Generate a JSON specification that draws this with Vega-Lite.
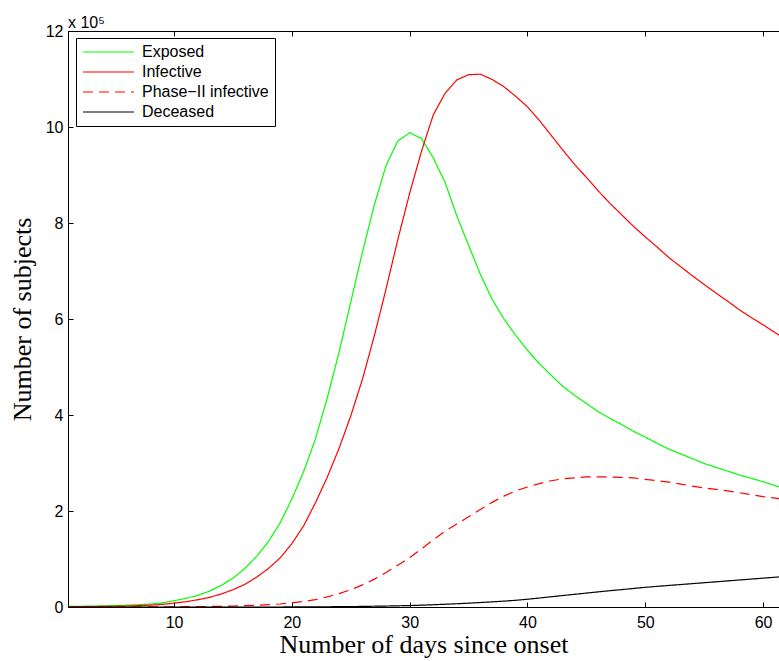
{
  "$schema": "https://vega.github.io/schema/vega-lite/v6.json",
  "width": 711,
  "height": 576,
  "autosize": "none",
  "padding": {"left": 68, "top": 31, "right": 0, "bottom": 54},
  "background": "white",
  "config": {"view": {"stroke": "black", "strokeWidth": 1}, "font": "Liberation Sans"},
  "title": {"text": "x 10⁵", "anchor": "start", "frame": "group", "offset": -21, "baseline": "alphabetic", "fontSize": 16, "fontWeight": "normal", "font": "Liberation Sans", "color": "black"},
  "data": {"values": [
    {"day": 1, "E": 0.012, "I": 0.005, "P": 0.0, "D": 0},
    {"day": 2, "E": 0.015, "I": 0.007, "P": 0.0005, "D": 0},
    {"day": 3, "E": 0.019, "I": 0.009, "P": 0.001, "D": 0},
    {"day": 4, "E": 0.024, "I": 0.012, "P": 0.0015, "D": 0},
    {"day": 5, "E": 0.03, "I": 0.016, "P": 0.002, "D": 0},
    {"day": 6, "E": 0.038, "I": 0.021, "P": 0.0025, "D": 0},
    {"day": 7, "E": 0.048, "I": 0.028, "P": 0.003, "D": 0},
    {"day": 8, "E": 0.062, "I": 0.038, "P": 0.0035, "D": 0},
    {"day": 9, "E": 0.085, "I": 0.055, "P": 0.004, "D": 0},
    {"day": 10, "E": 0.13, "I": 0.08, "P": 0.005, "D": 0},
    {"day": 11, "E": 0.18, "I": 0.11, "P": 0.006, "D": 0},
    {"day": 12, "E": 0.24, "I": 0.15, "P": 0.008, "D": 0},
    {"day": 13, "E": 0.33, "I": 0.2, "P": 0.011, "D": 0},
    {"day": 14, "E": 0.45, "I": 0.27, "P": 0.015, "D": 0},
    {"day": 15, "E": 0.6, "I": 0.36, "P": 0.02, "D": 0},
    {"day": 16, "E": 0.8, "I": 0.47, "P": 0.027, "D": 0},
    {"day": 17, "E": 1.05, "I": 0.62, "P": 0.036, "D": 0},
    {"day": 18, "E": 1.36, "I": 0.8, "P": 0.048, "D": 0},
    {"day": 19, "E": 1.75, "I": 1.02, "P": 0.063, "D": 0},
    {"day": 20, "E": 2.25, "I": 1.32, "P": 0.085, "D": 0.002},
    {"day": 21, "E": 2.82, "I": 1.69, "P": 0.115, "D": 0.003},
    {"day": 22, "E": 3.5, "I": 2.17, "P": 0.155, "D": 0.004},
    {"day": 23, "E": 4.35, "I": 2.7, "P": 0.21, "D": 0.005},
    {"day": 24, "E": 5.3, "I": 3.3, "P": 0.28, "D": 0.007},
    {"day": 25, "E": 6.35, "I": 3.98, "P": 0.36, "D": 0.009},
    {"day": 26, "E": 7.4, "I": 4.75, "P": 0.46, "D": 0.012},
    {"day": 27, "E": 8.38, "I": 5.65, "P": 0.58, "D": 0.016},
    {"day": 28, "E": 9.2, "I": 6.63, "P": 0.72, "D": 0.02},
    {"day": 29, "E": 9.71, "I": 7.66, "P": 0.87, "D": 0.025},
    {"day": 30, "E": 9.88, "I": 8.62, "P": 1.03, "D": 0.03},
    {"day": 31, "E": 9.76, "I": 9.49, "P": 1.21, "D": 0.038},
    {"day": 32, "E": 9.36, "I": 10.25, "P": 1.4, "D": 0.047},
    {"day": 33, "E": 8.85, "I": 10.7, "P": 1.58, "D": 0.057},
    {"day": 34, "E": 8.15, "I": 10.98, "P": 1.73, "D": 0.068},
    {"day": 35, "E": 7.54, "I": 11.09, "P": 1.88, "D": 0.08},
    {"day": 36, "E": 6.93, "I": 11.1, "P": 2.03, "D": 0.093},
    {"day": 37, "E": 6.41, "I": 10.99, "P": 2.18, "D": 0.107},
    {"day": 38, "E": 6.0, "I": 10.84, "P": 2.31, "D": 0.122},
    {"day": 39, "E": 5.66, "I": 10.64, "P": 2.42, "D": 0.14},
    {"day": 40, "E": 5.35, "I": 10.42, "P": 2.5, "D": 0.162},
    {"day": 41, "E": 5.07, "I": 10.14, "P": 2.57, "D": 0.187},
    {"day": 42, "E": 4.83, "I": 9.83, "P": 2.63, "D": 0.213},
    {"day": 43, "E": 4.6, "I": 9.52, "P": 2.67, "D": 0.239},
    {"day": 44, "E": 4.41, "I": 9.22, "P": 2.69, "D": 0.265},
    {"day": 45, "E": 4.24, "I": 8.95, "P": 2.71, "D": 0.29},
    {"day": 46, "E": 4.07, "I": 8.67, "P": 2.71, "D": 0.315},
    {"day": 47, "E": 3.93, "I": 8.41, "P": 2.71, "D": 0.34},
    {"day": 48, "E": 3.8, "I": 8.17, "P": 2.7, "D": 0.362},
    {"day": 49, "E": 3.66, "I": 7.93, "P": 2.69, "D": 0.386},
    {"day": 50, "E": 3.54, "I": 7.71, "P": 2.66, "D": 0.41},
    {"day": 51, "E": 3.41, "I": 7.5, "P": 2.63, "D": 0.43},
    {"day": 52, "E": 3.29, "I": 7.28, "P": 2.6, "D": 0.449},
    {"day": 53, "E": 3.19, "I": 7.09, "P": 2.56, "D": 0.468},
    {"day": 54, "E": 3.09, "I": 6.9, "P": 2.52, "D": 0.487},
    {"day": 55, "E": 2.99, "I": 6.72, "P": 2.48, "D": 0.506},
    {"day": 56, "E": 2.91, "I": 6.54, "P": 2.45, "D": 0.525},
    {"day": 57, "E": 2.83, "I": 6.37, "P": 2.42, "D": 0.544},
    {"day": 58, "E": 2.75, "I": 6.19, "P": 2.38, "D": 0.563},
    {"day": 59, "E": 2.68, "I": 6.03, "P": 2.34, "D": 0.582},
    {"day": 60, "E": 2.61, "I": 5.88, "P": 2.3, "D": 0.601},
    {"day": 61, "E": 2.53, "I": 5.72, "P": 2.27, "D": 0.62},
    {"day": 62, "E": 2.46, "I": 5.56, "P": 2.24, "D": 0.638}
  ]},
  "transform": [{"fold": ["E", "I", "P", "D"], "as": ["s", "v"]}],
  "layer": [
    {
      "mark": {"type": "line", "strokeWidth": 1.2, "clip": true},
      "encoding": {
        "x": {
          "field": "day", "type": "quantitative",
          "scale": {"domain": [1, 61.35], "nice": false, "zero": false},
          "axis": {"orient": "bottom", "values": [10, 20, 30, 40, 50, 60], "grid": false, "tickSize": -5, "tickColor": "black", "domainColor": "black", "labelPadding": 12, "labelFontSize": 16, "labelColor": "black", "labelFont": "Liberation Sans", "title": "Number of days since onset", "titleFont": "Liberation Serif", "titleFontSize": 26, "titleFontWeight": "normal", "titleColor": "black", "titlePadding": 1}
        },
        "y": {
          "field": "v", "type": "quantitative",
          "scale": {"domain": [0, 12], "nice": false},
          "axis": {"values": [0, 2, 4, 6, 8, 10, 12], "grid": false, "tickSize": -5, "tickColor": "black", "domainColor": "black", "labelPadding": 10, "labelFontSize": 16, "labelColor": "black", "labelFont": "Liberation Sans", "title": "Number of subjects", "titleFont": "Liberation Serif", "titleFontSize": 26, "titleFontWeight": "normal", "titleColor": "black", "titlePadding": 10}
        },
        "color": {
          "field": "s", "type": "nominal",
          "scale": {"domain": ["E", "I", "P", "D"], "range": ["#00ff00", "#ff0000", "#ff0000", "#000000"]},
          "legend": {"orient": "none", "legendX": 8, "legendY": 7, "title": null, "symbolType": "stroke", "symbolSize": 2601, "symbolStrokeWidth": 1.2, "labelFontSize": 16, "labelFont": "Liberation Sans", "labelColor": "black", "labelExpr": "{'E': 'Exposed', 'I': 'Infective', 'P': 'Phase−II infective', 'D': 'Deceased'}[datum.label]", "strokeColor": "black", "fillColor": "white", "padding": 6, "rowPadding": 4, "clipHeight": 16, "labelOffset": 7, "labelLimit": 300}
        },
        "strokeDash": {
          "field": "s", "type": "nominal",
          "scale": {"domain": ["E", "I", "P", "D"], "range": [[1, 0], [1, 0], [10, 6], [1, 0]]},
          "legend": {"orient": "none", "legendX": 8, "legendY": 7, "title": null, "symbolType": "stroke", "symbolSize": 2601, "symbolStrokeWidth": 1.2, "labelFontSize": 16, "labelFont": "Liberation Sans", "labelColor": "black", "labelExpr": "{'E': 'Exposed', 'I': 'Infective', 'P': 'Phase−II infective', 'D': 'Deceased'}[datum.label]", "strokeColor": "black", "fillColor": "white", "padding": 6, "rowPadding": 4, "clipHeight": 16, "labelOffset": 7, "labelLimit": 300}
        }
      }
    },
    {
      "mark": {"type": "line", "opacity": 0},
      "encoding": {
        "x": {"field": "day", "type": "quantitative", "axis": {"orient": "top", "values": [10, 20, 30, 40, 50, 60], "labels": false, "title": null, "grid": false, "domain": false, "tickSize": -5, "tickColor": "black"}},
        "y": {"field": "v", "type": "quantitative"},
        "detail": {"field": "s"}
      }
    }
  ],
  "resolve": {"axis": {"x": "independent"}}
}
